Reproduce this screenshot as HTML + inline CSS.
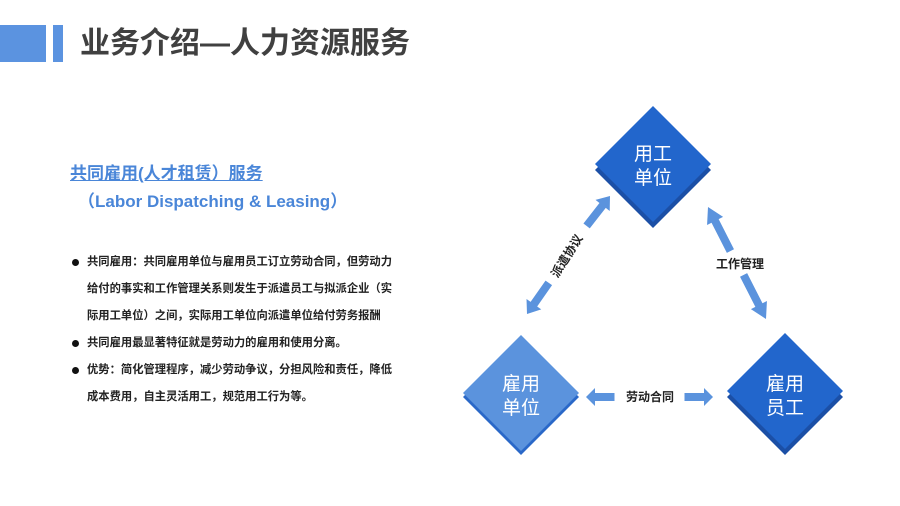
<!DOCTYPE html>
<html><head><meta charset="utf-8"><style>
html,body{margin:0;padding:0;background:#fff;}
body{width:900px;height:506px;position:relative;overflow:hidden;font-family:"Liberation Sans","Noto Sans CJK SC",sans-serif;}
.abs{position:absolute;white-space:nowrap;}
.b1{left:0;top:25px;width:46px;height:37px;background:#5b93e0;}
.b2{left:53px;top:25px;width:10px;height:37px;background:#5b93e0;}
.title{left:80px;top:24px;font-size:30px;line-height:40px;font-weight:bold;color:#404040;}
.h1{left:70px;top:163px;font-size:17px;font-weight:bold;color:#4a86d8;text-decoration:underline;line-height:22px;}
.h2{left:78px;top:190px;font-size:17px;font-weight:bold;color:#4a86d8;line-height:24px;}
.ln{left:87px;font-size:11.3px;font-weight:bold;color:#222;line-height:16px;}
.dot{position:absolute;width:7px;height:7px;border-radius:50%;background:#111;left:72px;}
</style></head><body>
<div class="abs b1"></div><div class="abs b2"></div>
<div class="abs title">业务介绍—人力资源服务</div>
<div class="abs h1">共同雇用(人才租赁）服务</div>
<div class="abs h2">（Labor Dispatching &amp; Leasing）</div>
<div class="dot" style="top:259px"></div>
<div class="abs ln" style="top:254px">共同雇用：共同雇用单位与雇用员工订立劳动合同，但劳动力</div>
<div class="abs ln" style="top:281px">给付的事实和工作管理关系则发生于派遣员工与拟派企业（实</div>
<div class="abs ln" style="top:308px">际用工单位）之间，实际用工单位向派遣单位给付劳务报酬</div>
<div class="dot" style="top:340px"></div>
<div class="abs ln" style="top:335px">共同雇用最显著特征就是劳动力的雇用和使用分离。</div>
<div class="dot" style="top:367px"></div>
<div class="abs ln" style="top:362px">优势：简化管理程序，减少劳动争议，分担风险和责任，降低</div>
<div class="abs ln" style="top:389px">成本费用，自主灵活用工，规范用工行为等。</div>

<svg width="900" height="506" style="position:absolute;left:0;top:0" xmlns="http://www.w3.org/2000/svg">
<defs>
<polygon id="ar" points="0,0 -12,-9 -12,-4 -38,-4 -38,4 -12,4 -12,9" fill="#5b93dd"/>
</defs>
<polygon points="653,112 711,170 653,228 595,170" fill="#1b4fa6"/>
<polygon points="653,106 711,164 653,222 595,164" fill="#2266cc"/>
<polygon points="521,339 579,397 521,455 463,397" fill="#2a68c8"/>
<polygon points="521,335 579,393 521,451 463,393" fill="#5b93dd"/>
<polygon points="785,339 843,397 785,455 727,397" fill="#1b4fa6"/>
<polygon points="785,333 843,391 785,449 727,391" fill="#2266cc"/>
<g font-family="Liberation Sans,Noto Sans CJK SC,sans-serif" font-size="19" fill="#fff" text-anchor="middle">
<text x="653" y="160">用工</text><text x="653" y="184">单位</text>
<text x="521" y="390">雇用</text><text x="521" y="414">单位</text>
<text x="785" y="390">雇用</text><text x="785" y="414">员工</text>
</g>
<use href="#ar" transform="translate(610,196) rotate(-52)"/>
<use href="#ar" transform="translate(527,314) rotate(125)"/>
<use href="#ar" transform="translate(708,207) rotate(-117) scale(1.3,1)"/>
<use href="#ar" transform="translate(766,319) rotate(63) scale(1.3,1)"/>
<use href="#ar" transform="translate(586,397) rotate(180) scale(0.75,1)"/>
<use href="#ar" transform="translate(713,397) scale(0.75,1)"/>
<g font-family="Liberation Sans,Noto Sans CJK SC,sans-serif" font-size="12" font-weight="bold" fill="#222" text-anchor="middle">
<text x="740" y="268">工作管理</text>
<text x="650" y="401">劳动合同</text>
<text transform="translate(567,256) rotate(-58)" x="0" y="4">派遣协议</text>
</g>
</svg>
</body></html>
